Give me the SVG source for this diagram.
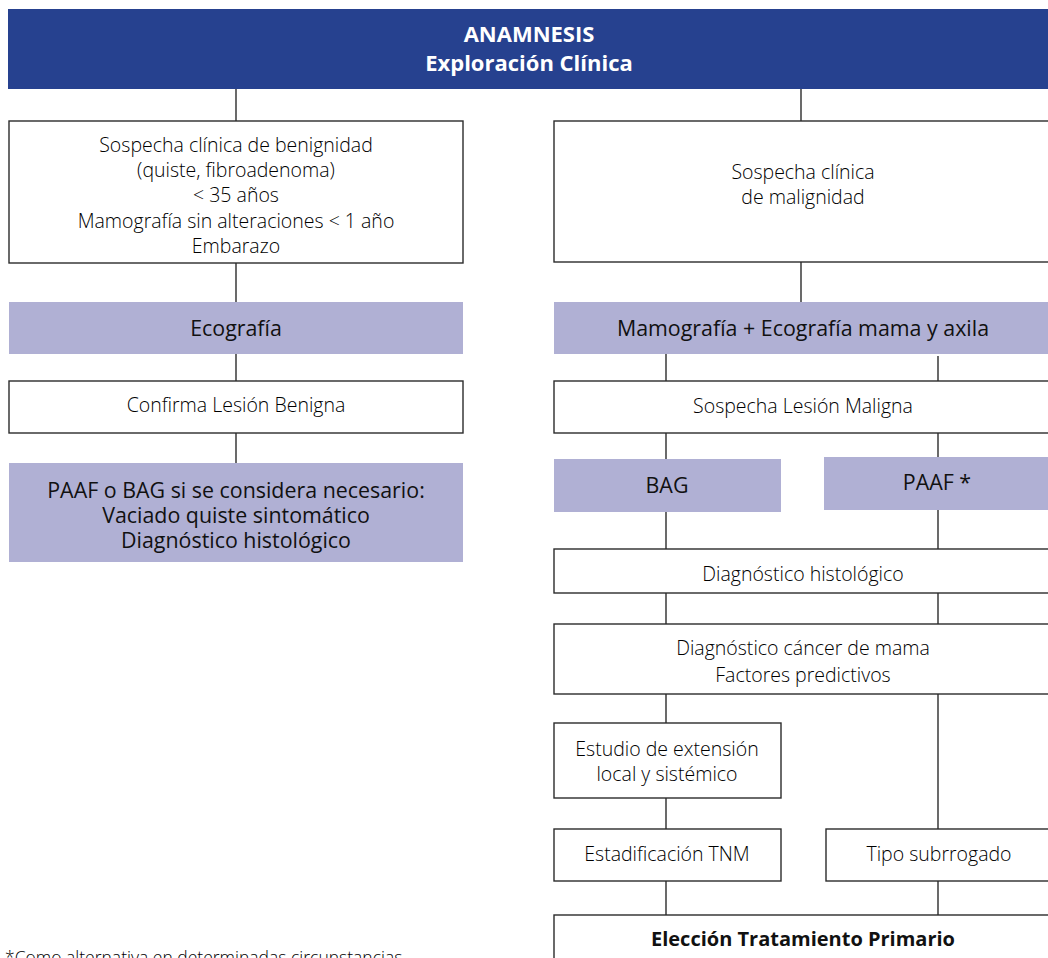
<svg xmlns="http://www.w3.org/2000/svg" width="1048" height="958" viewBox="0 0 1048 958">
<style>
text{font-family:"Open Sans","Noto Sans","Liberation Sans",sans-serif;text-anchor:middle;dominant-baseline:central}
.w{fill:#fff;stroke:#2b2b2b;stroke-width:1.4}
.p{fill:#b0b0d4}
.h{fill:#26418f}
.t{font-size:19.5px;font-weight:300;fill:#000}
.tp{font-size:21.4px;fill:#111}
.th{font-size:22px;font-weight:700;fill:#fff}
.tb{font-size:20px;font-weight:700;fill:#111}
.fn{font-size:17.5px;font-weight:300;fill:#000;text-anchor:start}
#connectors line{stroke:#2b2b2b;stroke-width:1.4}
</style>
<rect width="1048" height="958" fill="#fff"/>
<g id="connectors">
<line x1="236" y1="89" x2="236" y2="121"/>
<line x1="801" y1="89" x2="801" y2="121"/>
<line x1="236" y1="263" x2="236" y2="302"/>
<line x1="236" y1="354" x2="236" y2="381"/>
<line x1="236" y1="433" x2="236" y2="463"/>
<line x1="801" y1="262" x2="801" y2="302"/>
<line x1="666" y1="354" x2="666" y2="381"/>
<line x1="938" y1="356" x2="938" y2="381"/>
<line x1="666" y1="433" x2="666" y2="459"/>
<line x1="938" y1="433" x2="938" y2="457"/>
<line x1="666" y1="512" x2="666" y2="549"/>
<line x1="938" y1="510" x2="938" y2="549"/>
<line x1="666" y1="593" x2="666" y2="624"/>
<line x1="938" y1="593" x2="938" y2="624"/>
<line x1="666" y1="694" x2="666" y2="723"/>
<line x1="938" y1="694" x2="938" y2="829"/>
<line x1="666" y1="798" x2="666" y2="829"/>
<line x1="666" y1="881" x2="666" y2="915"/>
<line x1="938" y1="881" x2="938" y2="915"/>
</g>
<g id="anamnesis">
<rect class="h" x="8" y="9" width="1045" height="80"/>
<text class="th" x="529" y="33">ANAMNESIS</text>
<text class="th" x="529" y="62">Exploración Clínica</text>
</g>
<g id="benignidad">
<rect class="w" x="9" y="121" width="454" height="142"/>
<text class="t" x="236" y="144">Sospecha clínica de benignidad</text>
<text class="t" x="236" y="169">(quiste, fibroadenoma)</text>
<text class="t" x="236" y="194">&lt; 35 años</text>
<text class="t" x="236" y="220">Mamografía sin alteraciones &lt; 1 año</text>
<text class="t" x="236" y="245">Embarazo</text>
</g>
<g id="ecografia">
<rect class="p" x="9" y="302" width="454" height="52"/>
<text class="tp" x="236" y="327">Ecografía</text>
</g>
<g id="confirma">
<rect class="w" x="9" y="381" width="454" height="52"/>
<text class="t" x="236" y="404">Confirma Lesión Benigna</text>
</g>
<g id="paaf-bag">
<rect class="p" x="9" y="463" width="454" height="99"/>
<text class="tp" x="236" y="489">PAAF o BAG si se considera necesario:</text>
<text class="tp" x="236" y="514">Vaciado quiste sintomático</text>
<text class="tp" x="236" y="539">Diagnóstico histológico</text>
</g>
<g id="malignidad">
<rect class="w" x="554" y="121" width="500" height="141"/>
<text class="t" x="803" y="171">Sospecha clínica</text>
<text class="t" x="803" y="196">de malignidad</text>
</g>
<g id="mamografia">
<rect class="p" x="554" y="302" width="500" height="52"/>
<text class="tp" x="803" y="327">Mamografía + Ecografía mama y axila</text>
</g>
<g id="sospecha-maligna">
<rect class="w" x="554" y="381" width="500" height="52"/>
<text class="t" x="803" y="405">Sospecha Lesión Maligna</text>
</g>
<g id="bag">
<rect class="p" x="554" y="459" width="227" height="53"/>
<text class="tp" x="667" y="484">BAG</text>
</g>
<g id="paaf">
<rect class="p" x="824" y="457" width="230" height="53"/>
<text class="tp" x="937" y="481">PAAF *</text>
</g>
<g id="diag-histologico">
<rect class="w" x="554" y="549" width="500" height="44"/>
<text class="t" x="803" y="573">Diagnóstico histológico</text>
</g>
<g id="diag-cancer">
<rect class="w" x="554" y="624" width="500" height="70"/>
<text class="t" x="803" y="647">Diagnóstico cáncer de mama</text>
<text class="t" x="803" y="674">Factores predictivos</text>
</g>
<g id="estudio">
<rect class="w" x="554" y="723" width="227" height="75"/>
<text class="t" x="667" y="748">Estudio de extensión</text>
<text class="t" x="667" y="773">local y sistémico</text>
</g>
<g id="tnm">
<rect class="w" x="554" y="829" width="227" height="52"/>
<text class="t" x="667" y="853">Estadificación TNM</text>
</g>
<g id="subrrogado">
<rect class="w" x="826" y="829" width="228" height="52"/>
<text class="t" x="939" y="853">Tipo subrrogado</text>
</g>
<g id="tratamiento">
<rect class="w" x="554" y="915" width="500" height="60"/>
<text class="tb" x="803" y="938">Elección Tratamiento Primario</text>
</g>
<g id="footnote">
<text class="fn" x="5" y="957">*Como alternativa en determinadas circunstancias</text>
</g>
</svg>
